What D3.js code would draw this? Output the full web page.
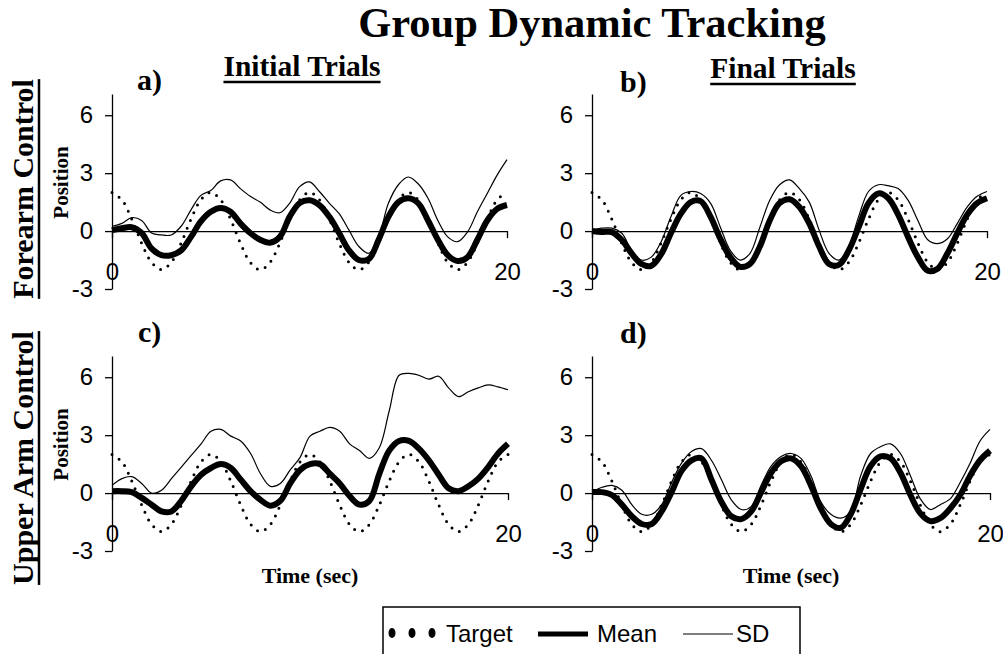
<!DOCTYPE html>
<html>
<head>
<meta charset="utf-8">
<script src="https://cdn.jsdelivr.net/npm/d3@7"></script>
<style>
  body { margin: 0; background: #fff; }
  svg { display: block; }
</style>
</head>
<body>
<div class="chart"></div>
<script>
// time in seconds, sampled every 0.5 s
var time = [0, 0.5, 1, 1.5, 2, 2.5, 3, 3.5, 4, 4.5, 5, 5.5, 6, 6.5, 7, 7.5, 8, 8.5, 9, 9.5,
  10, 10.5, 11, 11.5, 12, 12.5, 13, 13.5, 14, 14.5, 15, 15.5, 16, 16.5, 17, 17.5, 18, 18.5, 19, 19.5, 20];

var target = [2, 1.62, 0.62, -0.62, -1.62, -2, -1.62, -0.62, 0.62, 1.62,
  2, 1.62, 0.62, -0.62, -1.62, -2, -1.62, -0.62, 0.62, 1.62,
  2, 1.62, 0.62, -0.62, -1.62, -2, -1.62, -0.62, 0.62, 1.62,
  2, 1.62, 0.62, -0.62, -1.62, -2, -1.62, -0.62, 0.62, 1.62, 2];

// a) forearm, initial trials
var meanA = [0.05, 0.15, 0.2, -0.1, -0.9, -1.25, -1.25, -1.0, -0.3, 0.5, 1.0, 1.2, 1.0, 0.4, -0.1, -0.45, -0.6, -0.3, 0.75, 1.45,
  1.6, 1.35, 0.75, -0.1, -1.0, -1.5, -1.45, -0.45, 0.75, 1.5, 1.7, 1.45, 0.55, -0.45, -1.25, -1.55, -1.35, -0.45, 0.55, 1.15, 1.35];
var sdA = [0.25, 0.4, 0.7, 0.55, -0.1, -0.2, -0.2, 0.25, 1.1, 1.85, 2.1, 2.6, 2.65, 2.2, 1.8, 1.5, 1.1, 0.95, 1.45, 2.3,
  2.55, 2.05, 1.45, 0.9, 0.05, -0.8, -1.15, -0.3, 1.45, 2.4, 2.8, 2.45, 1.7, 0.55, -0.3, -0.55, -0.05, 1.0, 1.95, 2.9, 3.7];

// b) forearm, final trials
var meanB = [0, -0.05, -0.05, -0.45, -1.15, -1.7, -1.8, -1.2, -0.1, 0.9, 1.5, 1.55, 0.75, -0.4, -1.35, -1.85, -1.7, -0.8, 0.55, 1.45,
  1.65, 1.25, 0.4, -0.8, -1.7, -1.75, -1.0, 0.2, 1.45, 1.95, 1.7, 0.85, -0.3, -1.35, -2.05, -1.95, -1.15, -0.1, 0.85, 1.45, 1.7];
var sdB = [0.05, 0.15, 0.15, -0.1, -1.0, -1.5, -1.35, -0.55, 0.75, 1.85, 2.05, 1.95, 1.45, 0.2, -1.0, -1.5, -1.15, 0.2, 1.6, 2.4,
  2.65, 2.2, 1.5, 0.05, -1.15, -1.5, -0.8, 0.75, 2.05, 2.4, 2.35, 2.2, 1.6, 0.55, -0.45, -0.65, -0.4, 0.4, 1.25, 1.8, 2.05];

// c) upper arm, initial trials
var meanC = [0.1, 0.1, 0.05, -0.25, -0.6, -0.95, -0.95, -0.4, 0.35, 0.95, 1.3, 1.5, 1.3, 0.7, 0.1, -0.35, -0.65, -0.4, 0.5, 1.2,
  1.5, 1.5, 1.0, 0.5, -0.15, -0.6, -0.4, 1.0, 2.2, 2.7, 2.7, 2.3, 1.7, 0.95, 0.25, 0.1, 0.35, 0.75, 1.35, 2.05, 2.55];
var sdC = [0.4, 0.75, 0.85, 0.5, 0.0, 0.15, 0.75, 1.35, 1.95, 2.55, 3.2, 3.3, 2.95, 2.7, 2.05, 1.0, 0.35, 0.5, 1.2, 1.85,
  2.95, 3.2, 3.4, 3.2, 2.55, 2.2, 1.8, 2.35, 4.25, 6.1, 6.2, 6.1, 5.9, 6.05, 5.45, 5.0, 5.25, 5.45, 5.6, 5.5, 5.35];

// d) upper arm, final trials
var meanD = [0.05, 0.05, -0.1, -0.6, -1.2, -1.6, -1.6, -0.95, 0.05, 1.15, 1.7, 1.8, 0.7, -0.45, -1.2, -1.35, -0.95, 0.05, 1.05, 1.65,
  1.8, 1.4, 0.4, -0.8, -1.6, -1.8, -1.1, 0.2, 1.4, 1.9, 1.8, 1.05, -0.1, -1.05, -1.45, -1.3, -0.8, -0.1, 0.9, 1.7, 2.2];
var sdD = [0.05, 0.3, 0.4, 0.15, -0.6, -1.1, -1.1, -0.6, 0.55, 1.55, 2.15, 2.3, 1.7, 0.7, -0.35, -0.85, -0.7, 0.4, 1.4, 1.9,
  2.05, 1.8, 0.9, -0.45, -1.1, -1.3, -0.95, 0.9, 2.05, 2.4, 2.55, 2.05, 0.9, -0.3, -0.85, -0.6, -0.3, 0.55, 1.55, 2.7, 3.3];

var yTicks = [-3, 0, 3, 6];
var xTicks = [0, 20];

var serif = '"Liberation Serif", "Times New Roman", serif';
var sans = '"Liberation Sans", Arial, sans-serif';

var svg = d3.select('.chart')
  .append('svg')
  .attr('width', 1003)
  .attr('height', 654);

svg.append('rect').attr('width', 1003).attr('height', 654).style('fill', '#fff');

// draw a bold serif label and a thick underline under it
function underlined(g, text, size) {
  var t = g.append('text')
    .attr('text-anchor', 'middle')
    .style('font-family', serif)
    .style('font-weight', 'bold')
    .style('font-size', size + 'px')
    .text(text);
  var w = t.node().getComputedTextLength();
  g.append('line')
    .attr('x1', -w / 2).attr('x2', w / 2)
    .attr('y1', size * 0.2).attr('y2', size * 0.2)
    .style('stroke', '#000')
    .style('stroke-width', 2.5);
}

svg.append('text')
  .attr('x', 592).attr('y', 37)
  .attr('text-anchor', 'middle')
  .style('font-family', serif)
  .style('font-weight', 'bold')
  .style('font-size', '42.5px')
  .text('Group Dynamic Tracking');

underlined(svg.append('g').attr('transform', 'translate(302, 76)'), 'Initial Trials', 29.5);
underlined(svg.append('g').attr('transform', 'translate(783, 78)'), 'Final Trials', 29.5);
underlined(svg.append('g').attr('transform', 'translate(33, 189) rotate(-90)'), 'Forearm Control', 30);
underlined(svg.append('g').attr('transform', 'translate(33, 458) rotate(-90)'), 'Upper Arm Control', 30);

var panels = [
  { label: 'a)', lx: 137, ly: 90, x0: 112, x1: 507, yb: 289, yt: 94, mean: meanA, sd: sdA, xlabel: false },
  { label: 'b)', lx: 620, ly: 92, x0: 592, x1: 987, yb: 289, yt: 94, mean: meanB, sd: sdB, xlabel: false },
  { label: 'c)', lx: 138, ly: 342, x0: 112, x1: 508, yb: 551, yt: 356, mean: meanC, sd: sdC, xlabel: true },
  { label: 'd)', lx: 620, ly: 343, x0: 592, x1: 990, yb: 551, yt: 356, mean: meanD, sd: sdD, xlabel: true }
];

panels.forEach(function (p) {
  var g = svg.append('g');

  var xScale = d3.scaleLinear().domain([0, 20]).range([p.x0, p.x1]);
  var yScale = d3.scaleLinear().domain([-3, 7.1]).range([p.yb, p.yt]);

  var yAxis = d3.axisLeft(yScale)
    .tickValues(yTicks)
    .tickSize(7)
    .tickSizeOuter(0)
    .tickPadding(12)
    .tickFormat(d3.format('d'));
  var ya = g.append('g')
    .attr('transform', 'translate(' + p.x0 + ',0)')
    .call(yAxis);

  var xAxis = d3.axisBottom(xScale)
    .tickValues(xTicks)
    .tickSize(7)
    .tickSizeOuter(0)
    .tickPadding(25);
  var xa = g.append('g')
    .attr('transform', 'translate(0,' + yScale(0) + ')')
    .call(xAxis);

  [ya, xa].forEach(function (a) {
    a.selectAll('path, line').style('stroke', '#000').style('stroke-width', 1.3);
    a.selectAll('text')
      .style('font-family', sans)
      .style('font-size', '24px')
      .style('fill', '#000');
  });
  ya.selectAll('text').text(d => d < 0 ? '-' + Math.abs(d) : d);

  var line = d3.line()
    .x((d, i) => xScale(time[i]))
    .y(d => yScale(d))
    .curve(d3.curveCatmullRom.alpha(0.5));

  g.append('path')
    .attr('d', line(target))
    .style('fill', 'none')
    .style('stroke', '#000')
    .style('stroke-width', 3)
    .style('stroke-linecap', 'round')
    .style('stroke-dasharray', '0,8.5');

  g.append('path')
    .attr('d', line(p.sd))
    .style('fill', 'none')
    .style('stroke', '#000')
    .style('stroke-width', 1.2);

  g.append('path')
    .attr('d', line(p.mean))
    .style('fill', 'none')
    .style('stroke', '#000')
    .style('stroke-width', 6)
    .style('stroke-linejoin', 'round');

  g.append('text')
    .attr('x', p.lx).attr('y', p.ly)
    .style('font-family', serif)
    .style('font-weight', 'bold')
    .style('font-size', '30px')
    .text(p.label);

  if (p.x0 < 300) {
    var midY = (yScale(-3) + yScale(7.1)) / 2 - 9;
    g.append('text')
      .attr('transform', 'translate(' + (p.x0 - 44) + ',' + midY + ') rotate(-90)')
      .attr('text-anchor', 'middle')
      .style('font-family', serif)
      .style('font-weight', 'bold')
      .style('font-size', '21px')
      .text('Position');
  }

  if (p.xlabel) {
    g.append('text')
      .attr('x', (p.x0 + p.x1) / 2).attr('y', 583)
      .attr('text-anchor', 'middle')
      .style('font-family', serif)
      .style('font-weight', 'bold')
      .style('font-size', '22px')
      .text('Time (sec)');
  }
});

// legend
var legend = svg.append('g');
legend.append('rect')
  .attr('x', 383).attr('y', 607)
  .attr('width', 417).attr('height', 60)
  .style('fill', 'none')
  .style('stroke', '#000')
  .style('stroke-width', 1.5);

legend.selectAll('ellipse')
  .data([392, 412, 432])
  .enter()
  .append('ellipse')
  .attr('cx', d => d).attr('cy', 633)
  .attr('rx', 3.5).attr('ry', 5)
  .style('fill', '#000');

legend.append('line')
  .attr('x1', 538).attr('x2', 588).attr('y1', 634).attr('y2', 634)
  .style('stroke', '#000').style('stroke-width', 5);
legend.append('line')
  .attr('x1', 683).attr('x2', 733).attr('y1', 634).attr('y2', 634)
  .style('stroke', '#000').style('stroke-width', 1.2);

legend.selectAll('text')
  .data([['Target', 446], ['Mean', 597], ['SD', 736]])
  .enter()
  .append('text')
  .attr('x', d => d[1]).attr('y', 642)
  .style('font-family', sans)
  .style('font-size', '24px')
  .text(d => d[0]);
</script>
</body>
</html>
